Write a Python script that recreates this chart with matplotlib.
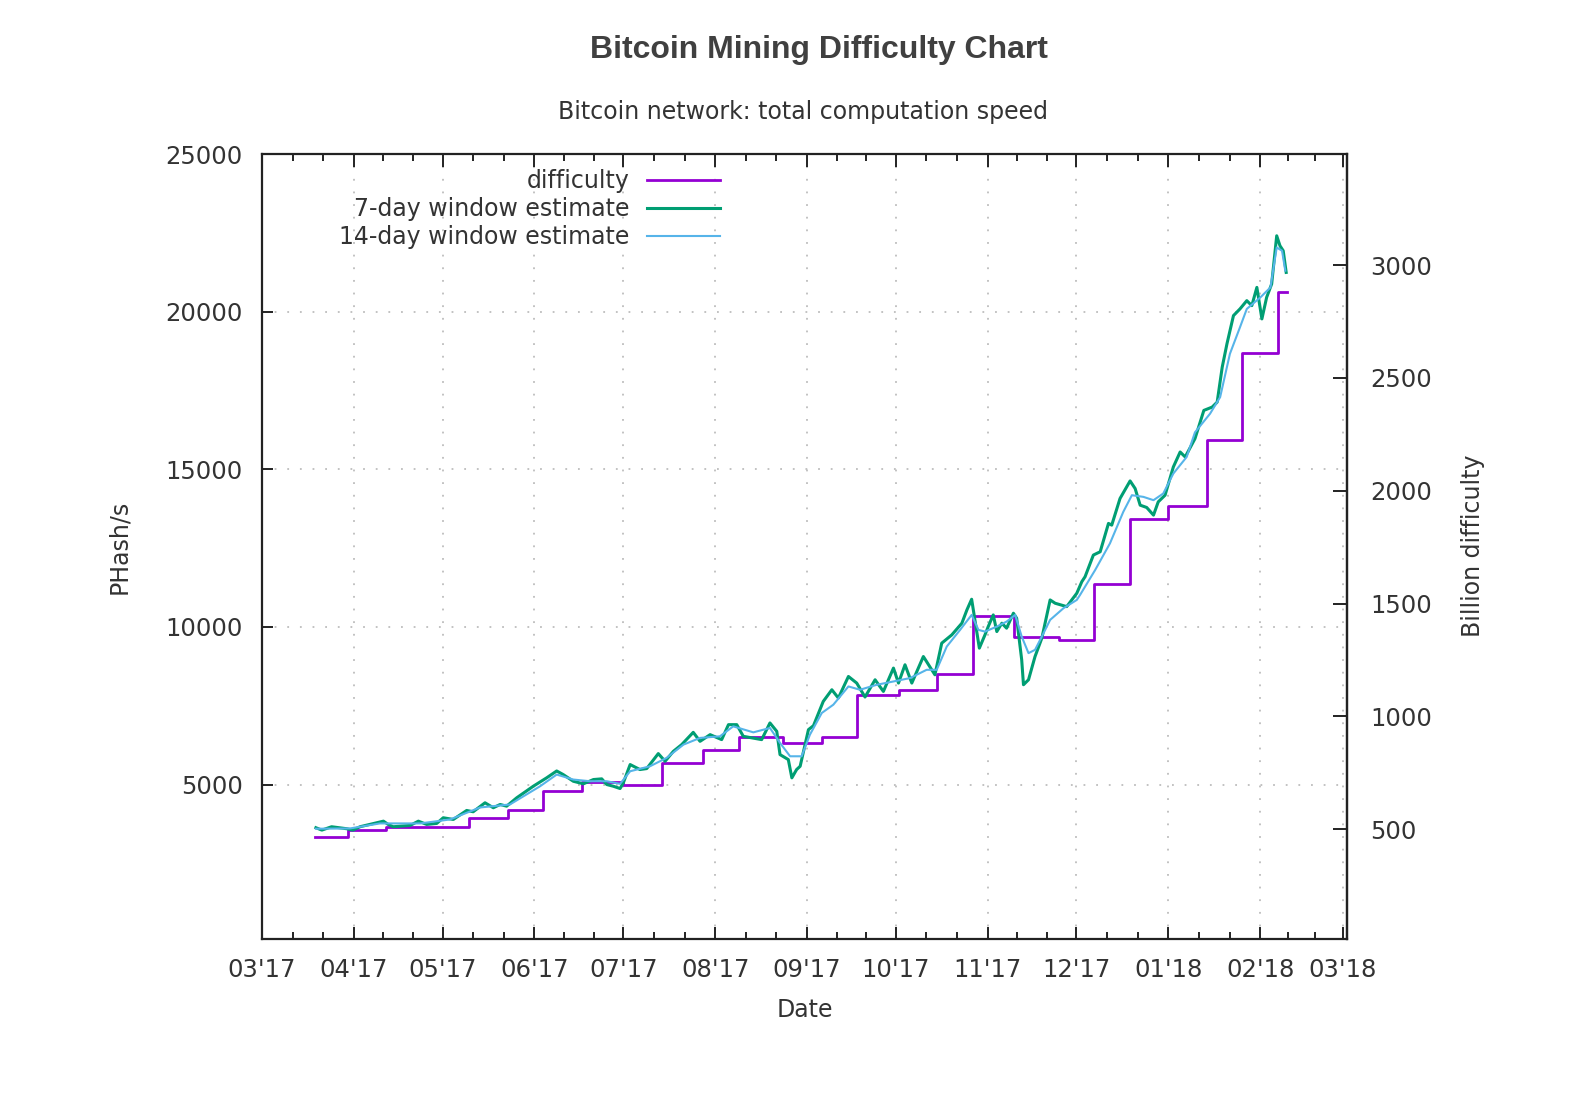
import datetime as dt
import matplotlib
matplotlib.use("Agg")
import matplotlib.pyplot as plt
import matplotlib.dates as mdates
import numpy as np

# difficulty adjustments (billion difficulty), step starts
diff_dates = ['2017-03-19', '2017-03-30', '2017-04-12', '2017-05-10', '2017-05-23',
              '2017-06-04', '2017-06-17', '2017-07-01', '2017-07-14', '2017-07-28',
              '2017-08-09', '2017-08-24', '2017-09-06', '2017-09-18', '2017-10-02',
              '2017-10-15', '2017-10-27', '2017-11-10', '2017-11-25', '2017-12-07',
              '2017-12-19', '2018-01-01', '2018-01-14', '2018-01-26', '2018-02-07']
diff_end = '2018-02-10'
diff_vals = [466, 495, 511, 548, 584, 672, 709, 696, 795, 850,
             911, 884, 911, 1096, 1116, 1190, 1444, 1353, 1339, 1588,
             1875, 1933, 2226, 2609, 2879]

# hashrate estimates, x = days after 2017-03-01, y = PHash/s
days7 = [18.2, 20.2, 23.5, 28.6, 30.7, 33.1, 41.0, 42.6, 44.3, 50.0,
         52.8, 55.6, 59.0, 61.2, 64.6, 69.1, 71.3, 75.3, 78.1, 80.4,
         82.6, 86.0, 91.6, 96.1, 99.5, 101.7, 105.1, 108.5, 111.9, 114.7,
         116.4, 118.6, 120.9, 122.0, 124.3, 127.6, 129.9, 133.8, 136.1, 138.9,
         141.7, 145.6, 147.9, 151.3, 155.2, 157.5, 160.3, 162.5, 168.7, 171.5,
         173.8, 174.9, 177.7, 178.9, 180.5, 181.7, 184.5, 186.2, 189.5, 192.4,
         194.6, 198.0, 200.8, 203.6, 207.0, 209.8, 213.2, 214.9, 217.1, 219.4,
         223.3, 227.2, 229.5, 232.9, 236.3, 238.0, 239.6, 240.8, 242.2, 244.1,
         245.2, 246.9, 248.1, 249.8, 251.4, 253.7, 254.8, 256.5, 257.1, 258.8,
         261.0, 263.3, 266.1, 267.8, 271.7, 275.1, 276.8, 277.9, 280.7, 283.0,
         285.8, 286.9, 289.7, 293.1, 294.8, 296.5, 298.7, 301.0, 302.6, 304.9,
         307.7, 310.0, 311.7, 315.0, 318.0, 320.8, 322.5, 324.2, 325.8, 328.0,
         330.2, 332.5, 334.2, 335.9, 337.6, 339.2, 340.9, 342.6, 343.7, 344.8,
         345.8]
ph7 = [3630, 3554, 3661, 3598, 3554, 3661, 3838, 3734, 3661, 3702,
       3838, 3734, 3766, 3946, 3892, 4177, 4136, 4421, 4263, 4367,
       4313, 4579, 4946, 5212, 5430, 5316, 5104, 5022, 5158, 5180,
       5000, 4946, 4873, 5054, 5633, 5475, 5506, 5981, 5737, 6054,
       6266, 6655, 6370, 6582, 6424, 6899, 6899, 6529, 6424, 6953,
       6687, 5949, 5791, 5212, 5475, 5579, 6741, 6867, 7636, 8006,
       7744, 8427, 8218, 7775, 8323, 7953, 8693, 8218, 8798, 8218,
       9060, 8481, 9484, 9747, 10117, 10538, 10877, 10168, 9326, 9747,
       10010, 10380, 9852, 10117, 9959, 10434, 10275, 8956, 8165, 8323,
       9060, 9643, 10855, 10750, 10643, 11067, 11434, 11592, 12279, 12383,
       13282, 13228, 14073, 14630, 14389, 13861, 13788, 13545, 13966, 14177,
       15073, 15548, 15390, 15970, 16867, 16972, 17130, 18238, 18978, 19874,
       20086, 20348, 20190, 20769, 19769, 20453, 20877, 22406, 22090, 21931,
       21244]

days14 = [18.2, 29.7, 39.8, 53.4, 63.5, 73.6, 83.7, 93.9, 99.5, 105.1,
          110.8, 116.4, 120.9, 124.3, 131.0, 136.6, 142.3, 147.9, 154.6, 159.1,
          165.9, 171.5, 174.9, 178.3, 182.2, 185.0, 189.0, 192.9, 198.0, 201.9,
          207.6, 213.2, 218.8, 224.4, 227.8, 231.2, 235.7, 239.6, 241.9, 244.1,
          248.1, 251.4, 254.3, 256.5, 258.8, 261.0, 263.3, 266.1, 270.6, 275.1,
          276.2, 281.3, 286.3, 290.8, 293.7, 297.6, 301.0, 304.3, 307.7, 312.2,
          315.0, 320.1, 323.5, 326.8, 330.2, 332.5, 337.1, 340.5, 342.6, 344.4,
          345.5]
ph14 = [3598, 3607, 3766, 3766, 3892, 4272, 4367, 4946, 5316, 5158,
        5104, 5104, 5022, 5421, 5579, 5845, 6266, 6478, 6529, 6845,
        6655, 6794, 6320, 5896, 5896, 6582, 7269, 7532, 8111, 8006,
        8165, 8269, 8377, 8639, 8639, 9377, 9905, 10380, 9905, 9851,
        10010, 10168, 10380, 9693, 9168, 9272, 9693, 10222, 10592, 10855,
        11013, 11804, 12649, 13649, 14177, 14124, 14019, 14231, 14864, 15390,
        16171, 16763, 17288, 18662, 19504, 20086, 20453, 20769, 22035, 21931,
        21298]

# 1 billion difficulty = 1e9 * 2^32 / 600 H/s
K = 1e9 * 2**32 / 600 / 1e15

t0 = mdates.date2num(dt.datetime(2017, 3, 1))
x7 = t0 + np.array(days7)
x14 = t0 + np.array(days14)
xd = mdates.datestr2num(diff_dates + [diff_end])
yd = np.array(diff_vals + [diff_vals[-1]]) * K

plt.rcParams['font.family'] = 'DejaVu Sans'
txt = '#333333'

fig = plt.figure(figsize=(15.71, 11.16), dpi=100)
ax = fig.add_axes([262/1571, 1-939/1116, 1085/1571, 785/1116])

l1, = ax.step(xd, yd, where='post', color='#9400d3', lw=2.0, label='difficulty')
l2, = ax.plot(x7, ph7, color='#009e73', lw=2.2, label='7-day window estimate')
l3, = ax.plot(x14, ph14, color='#56b4e9', lw=1.5, label='14-day window estimate')

ax.set_xlim(mdates.date2num(dt.datetime(2017, 3, 1)), mdates.date2num(dt.datetime(2018, 3, 2, 8)))
ax.set_ylim(100, 25000)

# month ticks with two minor ticks in between
months = [dt.datetime(2017 + (2 + i) // 12, (2 + i) % 12 + 1, 1) for i in range(14)]
mnum = mdates.date2num(months)
ax.set_xticks(mnum[:13])
ax.set_xticklabels([m.strftime("%m'%y") for m in months[:13]])
minors = []
for a, b in zip(mnum[:-2], mnum[1:-1]):
    minors += [a + (b - a) / 3, a + 2 * (b - a) / 3]
ax.set_xticks(minors, minor=True)
ax.set_yticks([5000, 10000, 15000, 20000, 25000])

ax.grid(True, which='major', color='#bdbdbd', linestyle=(0, (1, 6)), lw=1.3)
for s in ax.spines.values():
    s.set_color('#222222')
    s.set_linewidth(1.6)

ax.tick_params(axis='both', which='both', direction='in', colors='#222222',
               labelcolor=txt, labelsize=17.5, width=1.4)
ax.tick_params(axis='x', which='major', length=9, pad=14, top=True)
ax.tick_params(axis='x', which='minor', length=5, top=True)
ax.tick_params(axis='y', which='major', length=8, pad=14, right=False)

ax2 = ax.secondary_yaxis('right', functions=(lambda y: y / K, lambda v: v * K))
ax2.set_yticks([500, 1000, 1500, 2000, 2500, 3000])
ax2.tick_params(direction='in', length=10, width=1.4, colors='#222222',
                labelcolor=txt, labelsize=17.5, pad=17)
ax2.spines['right'].set_color('#222222')
ax2.spines['right'].set_linewidth(1.6)

ax.set_ylabel('PHash/s', fontsize=17, color=txt)
ax.yaxis.set_label_coords(-0.1207, 0.5)
fig.text(1473/1571, 1 - 546/1116, 'Billion difficulty', rotation=90, ha='center',
         va='center', fontsize=17, color=txt)
ax.set_xlabel('Date', fontsize=17, color=txt)
ax.xaxis.set_label_coords(0.5, -0.075)

fig.text(0.521, 1 - 50/1116, 'Bitcoin Mining Difficulty Chart', ha='center', va='center',
         fontsize=23, fontweight='bold', family='Liberation Sans', color='#404040')
fig.text(803/1571, 1 - 112/1116, 'Bitcoin network: total computation speed',
         ha='center', va='center', fontsize=17, color=txt)

leg = ax.legend(handles=[l1, l2, l3], loc='upper right', markerfirst=False, frameon=False,
                fontsize=17, handlelength=3.1, handletextpad=0.75, labelspacing=0.17,
                borderpad=0, bbox_to_anchor=(732/1571, 1 - 157/1116),
                bbox_transform=fig.transFigure)
for t in leg.get_texts():
    t.set_color(txt)

fig.savefig('out.png', dpi=100)
